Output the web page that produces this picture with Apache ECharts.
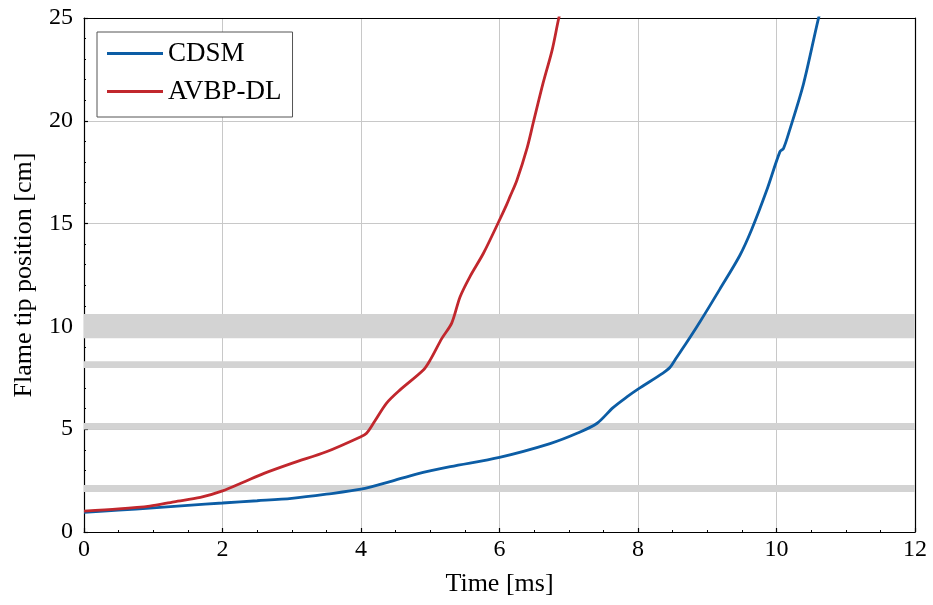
<!DOCTYPE html>
<html>
<head>
<meta charset="utf-8">
<script src="https://cdn.jsdelivr.net/npm/echarts@6/dist/echarts.min.js"></script>
<style>html,body{margin:0;padding:0;background:#fff;}#c{width:933px;height:605px;}</style>
</head>
<body>
<div id="c"></div>
<script>
// ---- data ----
var cdsmX = [0, 0.5, 1, 1.5, 2, 2.5, 3, 3.5, 4, 4.42, 4.8, 5.29, 6.0, 6.73, 7.12, 7.41, 7.64, 7.84, 8.0, 8.36, 8.46, 8.56, 8.7, 8.9, 9.18, 9.47, 9.64, 9.86, 10.05, 10.1, 10.19, 10.39, 10.6, 10.65];
var cdsmY = [0.95, 1.07, 1.17, 1.3, 1.41, 1.52, 1.64, 1.84, 2.08, 2.45, 2.82, 3.18, 3.63, 4.3, 4.8, 5.29, 6.05, 6.57, 6.95, 7.73, 8.0, 8.5, 9.2, 10.25, 11.8, 13.45, 14.7, 16.63, 18.5, 18.65, 19.55, 21.8, 24.9, 25.5];
var avbpX = [0, 0.5, 0.95, 1.3, 1.68, 2.0, 2.3, 2.6, 3.02, 3.5, 3.99, 4.08, 4.2, 4.37, 4.56, 4.9, 5.0, 5.17, 5.31, 5.43, 5.57, 5.77, 5.98, 6.1, 6.15, 6.25, 6.4, 6.49, 6.63, 6.76, 6.85, 6.9];
var avbpY = [1.02, 1.12, 1.26, 1.47, 1.68, 2.0, 2.42, 2.85, 3.36, 3.9, 4.62, 4.8, 5.4, 6.27, 6.9, 7.88, 8.37, 9.43, 10.16, 11.43, 12.4, 13.57, 15.03, 15.9, 16.3, 17.1, 18.7, 19.94, 21.84, 23.44, 24.9, 25.6];
var bandLow = [1.95, 4.98, 7.98, 9.42];
var bandHigh = [2.28, 5.3, 8.3, 10.6];
var seriesNames = ['CDSM', 'AVBP-DL'];
var xTicks = [0, 2, 4, 6, 8, 10, 12];
var yTicks = [0, 5, 10, 15, 20, 25];

function pairs(xs, ys) { return xs.map(function (x, i) { return [x, ys[i]]; }); }

var FONT = 'Liberation Serif';
var chart = echarts.init(document.getElementById('c'), null, {renderer: 'canvas'});
var bands = bandLow.map(function (lo, i) { return [{yAxis: lo}, {yAxis: bandHigh[i]}]; });

var axisCommonX = {
  type: 'value', min: xTicks[0], max: xTicks[xTicks.length - 1], interval: 2
};
var axisCommonY = {
  type: 'value', min: yTicks[0], max: yTicks[yTicks.length - 1], interval: 5
};

chart.setOption({
  backgroundColor: '#ffffff',
  animation: false,
  textStyle: {fontFamily: FONT, color: '#000'},
  grid: {left: 84, right: 18, top: 18, bottom: 73, containLabel: false},
  legend: {
    data: seriesNames.map(function (n) { return {name: n, icon: 'rect'}; }),
    orient: 'vertical', left: 97, top: 32,
    padding: [8, 11, 12, 10],
    itemWidth: 56, itemHeight: 3, itemGap: 11,
    borderColor: '#555', borderWidth: 1, backgroundColor: '#fff',
    textStyle: {fontFamily: FONT, fontSize: 27, color: '#000', padding: [0, 0, 0, 0]}
  },
  xAxis: [
    Object.assign({}, axisCommonX, {
      position: 'bottom',
      name: 'Time [ms]', nameLocation: 'middle', nameGap: 39,
      nameTextStyle: {fontFamily: FONT, fontSize: 26, color: '#000'},
      axisLine: {show: true, onZero: false, lineStyle: {color: '#000', width: 1.2}},
      axisTick: {show: true, inside: true, length: 4, lineStyle: {color: '#000', width: 1.2}},
      minorTick: {show: true, splitNumber: 4, length: 2, lineStyle: {color: '#000', width: 1}},
      axisLabel: {fontFamily: FONT, fontSize: 24, color: '#000', margin: 6},
      splitLine: {show: true, lineStyle: {color: '#c8c8c8', width: 1}}
    }),
    Object.assign({}, axisCommonX, {
      position: 'top',
      axisLine: {show: true, onZero: false, lineStyle: {color: '#000', width: 1.2}},
      axisTick: {show: false}, axisLabel: {show: false}, splitLine: {show: false}
    })
  ],
  yAxis: [
    Object.assign({}, axisCommonY, {
      position: 'left',
      name: 'Flame tip position [cm]', nameLocation: 'middle', nameGap: 47, nameRotate: 90,
      nameTextStyle: {fontFamily: FONT, fontSize: 26, color: '#000'},
      axisLine: {show: true, onZero: false, lineStyle: {color: '#000', width: 1.2}},
      axisTick: {show: true, inside: true, length: 4, lineStyle: {color: '#000', width: 1.2}},
      minorTick: {show: true, splitNumber: 5, length: 2, lineStyle: {color: '#000', width: 1}},
      axisLabel: {fontFamily: FONT, fontSize: 24, color: '#000', margin: 11},
      splitLine: {show: true, lineStyle: {color: '#c8c8c8', width: 1}}
    }),
    Object.assign({}, axisCommonY, {
      position: 'right',
      axisLine: {show: true, onZero: false, lineStyle: {color: '#000', width: 1.2}},
      axisTick: {show: false}, axisLabel: {show: false}, splitLine: {show: false}
    })
  ],
  series: [
    {
      name: 'bands', type: 'line', data: [], z: 1, silent: true,
      markArea: {silent: true, itemStyle: {color: '#d3d3d3', opacity: 1}, data: bands}
    },
    {
      name: seriesNames[0], type: 'line', data: pairs(cdsmX, cdsmY), z: 3,
      showSymbol: false, smooth: 0.3, clip: true,
      color: '#0C5DA5', lineStyle: {color: '#0C5DA5', width: 2.8}
    },
    {
      name: seriesNames[1], type: 'line', data: pairs(avbpX, avbpY), z: 3,
      showSymbol: false, smooth: 0.3, clip: true,
      color: '#C1272D', lineStyle: {color: '#C1272D', width: 2.8}
    }
  ]
});
</script>
</body>
</html>
